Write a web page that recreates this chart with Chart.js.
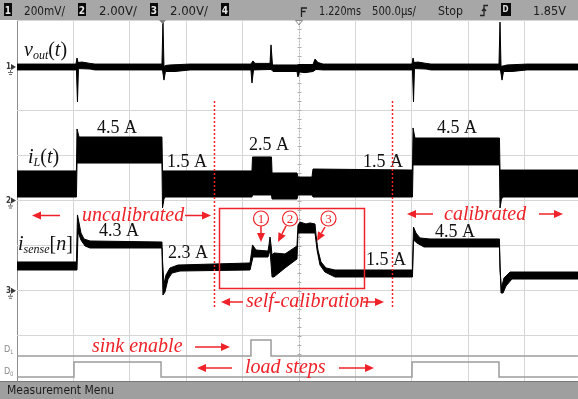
<!DOCTYPE html>
<html>
<head>
<meta charset="utf-8">
<script src="https://cdn.jsdelivr.net/npm/chart.js@4.4.1/dist/chart.umd.min.js"></script>
<style>
  html, body { margin: 0; padding: 0; background: #fff; }
  #wrap { width: 578px; height: 399px; }
</style>
</head>
<body>
<div id="wrap"><canvas id="scope" width="578" height="399"></canvas></div>
<script>
// time axis: ms from the left edge of the screen, 0.5 ms/div
// noisy traces are stored as envelopes: upper edge and lower edge, left to right

// ch1 vout(t), mV (AC, 200 mV/div)
const voutUpper = [[0, 13], [0.523, 13], [0.532, 40], [0.541, 20], [0.576, 22], [0.647, 16], [0.691, 13],
  [1.285, 13], [1.294, 199], [1.303, 2], [1.321, 7], [1.356, 9], [1.534, 13], [2.074, 13], [2.092, 27],
  [2.11, 16], [2.243, 16], [2.252, 98], [2.265, 9], [2.482, 9], [2.5, 11], [2.624, 11], [2.642, 35],
  [2.668, 20], [2.713, 13], [3.502, 13], [3.511, 40], [3.52, 20], [3.555, 22], [3.626, 16], [3.67, 13],
  [4.273, 13], [4.282, 199], [4.291, 2], [4.344, 9], [4.521, 13], [4.973, 13]];
const voutLower = [[0, -13], [0.527, -13], [0.536, -155], [0.545, -7], [0.647, -9], [0.691, -13],
  [1.29, -13], [1.303, -58], [1.316, -20], [1.401, -20], [1.534, -13], [2.074, -13], [2.083, -71],
  [2.097, -13], [2.252, -11], [2.27, -20], [2.482, -20], [2.491, -44], [2.504, -22], [2.553, -25],
  [2.624, -20], [2.651, -11], [2.713, -13], [3.506, -13], [3.515, -155], [3.524, -7], [3.626, -9],
  [3.67, -13], [4.286, -13], [4.3, -58], [4.313, -20], [4.388, -20], [4.521, -13], [4.973, -13]];

// ch2 iL(t), A
const iLUpper = [[0, 2.62], [0.527, 2.62], [0.532, 6.34], [0.55, 5.63], [1.285, 5.63], [1.29, 2.62],
  [2.083, 2.62], [2.088, 3.86], [2.256, 3.86], [2.261, 2.44], [2.482, 2.44], [2.491, 2.08], [2.615, 2.08],
  [2.624, 2.79], [3.506, 2.7], [3.511, 6.43], [3.528, 5.54], [4.277, 5.54], [4.282, 2.7], [4.973, 2.7]];
const iLLower = [[0, 0.31], [0.527, 0.31], [0.532, 3.32], [1.285, 3.32], [1.29, -0.66], [1.303, 0.13],
  [1.312, 0.31], [2.083, 0.31], [2.088, 0.49], [2.256, 0.49], [2.261, 0.13], [2.482, 0.13], [2.491, 0.49],
  [2.615, 0.49], [2.624, 0.31], [3.506, 0.31], [3.511, 3.15], [4.277, 3.15], [4.282, -0.66], [4.295, 0.13],
  [4.309, 0.31], [4.973, 0.31]];

// ch3 isense[n], A
const iSenseUpper = [[0, 2.55], [0.527, 2.55], [0.536, 6.72], [0.55, 6.01], [0.567, 5.12], [0.594, 4.59],
  [0.647, 4.41], [1.285, 4.32], [1.291, 2.55], [1.303, 0.6], [1.321, 1.4], [1.356, 2.02], [1.427, 2.28],
  [2.066, 2.46], [2.088, 4.06], [2.119, 3.61], [2.225, 3.52], [2.234, 4.06], [2.243, 4.77], [2.252, 4.06],
  [2.261, 3.17], [2.278, 3.35], [2.376, 3.26], [2.482, 3.97], [2.491, 5.83], [2.509, 6.09], [2.562, 5.92],
  [2.598, 6.01], [2.642, 5.92], [2.651, 4.94], [2.668, 3.61], [2.695, 2.55], [2.739, 2.02], [2.819, 1.84],
  [3.506, 1.84], [3.515, 5.65], [3.537, 5.12], [3.573, 4.68], [3.661, 4.59], [4.277, 4.59], [4.282, 1.84],
  [4.295, 0.24], [4.317, 1.13], [4.371, 1.66], [4.973, 1.66]];
const iSenseLower = [[0, 1.84], [0.532, 1.84], [0.541, 5.21], [0.567, 4.5], [0.603, 3.97], [0.647, 3.79],
  [1.285, 3.79], [1.294, -0.38], [1.312, -0.11], [1.339, 1.04], [1.374, 1.57], [1.445, 1.75], [2.066, 1.84],
  [2.092, 2.99], [2.225, 2.99], [2.243, 3.61], [2.261, 1.22], [2.278, 1.22], [2.376, 2.02], [2.482, 2.81],
  [2.491, 5.12], [2.642, 5.12], [2.66, 3.61], [2.686, 2.28], [2.73, 1.66], [2.819, 1.22], [3.506, 1.22],
  [3.515, 4.5], [3.546, 4.23], [3.608, 3.88], [4.277, 3.88], [4.291, -0.2], [4.309, -0.2], [4.335, 0.42],
  [4.388, 1.04], [4.973, 1.04]];

// digital channels D1 (sink enable) and D0 (load steps)
const sinkEnable = [[0, 0], [2.074, 1], [2.252, 0], [4.973, 0]];
const loadSteps = [[0, 0], [0.505, 1], [1.277, 0], [3.502, 1], [4.273, 0], [4.973, 0]];

// status line
const topItems = [
  { box: '1', x: 4 }, { text: '200mV/', x: 24, w: 41 },
  { box: '2', x: 78 }, { text: '2.00V/', x: 99, w: 38 },
  { box: '3', x: 150 }, { text: '2.00V/', x: 170, w: 38 },
  { box: '4', x: 221 },
  { text: '1.220ms', x: 319, w: 42 }, { text: '500.0\u00b5s/', x: 372, w: 44 },
  { text: 'Stop', x: 438, w: 25 }, { text: '1.85V', x: 533, w: 33 }
];

// screen geometry
const PLOT = { left: 17, top: 20, right: 578, bottom: 381 };
const DIV_X = 56.4;
const DIV_Y = (PLOT.bottom - PLOT.top) / 8;
const T_MAX = (PLOT.right - PLOT.left) / DIV_X * 0.5;

const RED = '#ef2229';
const SERIF = '"Liberation Serif", "Times New Roman", serif';
const SCOPE_FONT = '"DejaVu Sans Condensed", "DejaVu Sans", sans-serif';

function rangeFor(zeroPx, perDiv) {
  return {
    min: -(PLOT.bottom - zeroPx) / DIV_Y * perDiv,
    max: (zeroPx - PLOT.top) / DIV_Y * perDiv
  };
}

function pts(arr) {
  return arr.map(([x, y]) => ({ x, y }));
}

function band(label, upper, lower, axis) {
  return {
    label: label,
    yAxisID: axis,
    data: pts(upper.concat(lower.slice().reverse())),
    borderColor: '#000',
    backgroundColor: '#000',
    borderWidth: 1,
    borderJoinStyle: 'round',
    fill: 'shape',
    pointRadius: 0
  };
}

function digital(label, data, axis) {
  return {
    label: label,
    yAxisID: axis,
    data: pts(data),
    stepped: true,
    borderColor: '#9c9c9c',
    borderWidth: 1.5,
    fill: false,
    pointRadius: 0
  };
}

function fitText(ctx, s, x, y, w) {
  const m = ctx.measureText(s).width;
  const k = w ? Math.min(1, w / m) : 1;
  ctx.save();
  ctx.translate(x, y);
  ctx.scale(k, 1);
  ctx.fillText(s, 0, 0);
  ctx.restore();
}

// draws runs of text one after another: [text, font, dy]
function rich(ctx, x, y, parts, color) {
  ctx.fillStyle = color;
  for (const [s, font, dy] of parts) {
    ctx.font = font;
    ctx.fillText(s, x, y + (dy || 0));
    x += ctx.measureText(s).width;
  }
}

function arrow(ctx, x1, y1, x2, y2) {
  const ang = Math.atan2(y2 - y1, x2 - x1);
  const hl = 9, hw = 4;
  const bx = x2 - hl * Math.cos(ang), by = y2 - hl * Math.sin(ang);
  ctx.beginPath();
  ctx.moveTo(x1, y1);
  ctx.lineTo(bx, by);
  ctx.stroke();
  ctx.beginPath();
  ctx.moveTo(x2, y2);
  ctx.lineTo(bx + hw * Math.sin(ang), by - hw * Math.cos(ang));
  ctx.lineTo(bx - hw * Math.sin(ang), by + hw * Math.cos(ang));
  ctx.closePath();
  ctx.fill();
}

function drawBars(ctx) {
  ctx.save();
  ctx.fillStyle = '#a7a7a7';
  ctx.fillRect(0, 0, 578, PLOT.top);
  ctx.fillStyle = '#9f9f9f';
  ctx.fillRect(0, PLOT.bottom, 578, 399 - PLOT.bottom);
  ctx.fillStyle = '#7a7a7a';
  ctx.fillRect(0, PLOT.bottom, 578, 1);

  ctx.textBaseline = 'alphabetic';
  for (const it of topItems) {
    if (it.box) {
      ctx.fillStyle = '#0a0a0a';
      ctx.fillRect(it.x, 3, 8, 13);
      ctx.fillStyle = '#e8e8e8';
      ctx.font = 'bold 10px ' + SCOPE_FONT;
      ctx.textAlign = 'center';
      ctx.fillText(it.box, it.x + 4, 13.5);
      ctx.textAlign = 'left';
    } else {
      ctx.fillStyle = '#1c1c1c';
      ctx.font = '13px ' + SCOPE_FONT;
      fitText(ctx, it.text, it.x, 15, it.w);
    }
  }
  // trigger position icon
  ctx.strokeStyle = '#222';
  ctx.lineWidth = 1.3;
  ctx.beginPath();
  ctx.moveTo(301.5, 17); ctx.lineTo(301.5, 8); ctx.lineTo(307, 8);
  ctx.moveTo(301.5, 11.5); ctx.lineTo(305.5, 11.5);
  ctx.stroke();
  // trigger slope icon
  ctx.beginPath();
  ctx.moveTo(480, 15.5); ctx.lineTo(484, 15.5); ctx.lineTo(484, 5.5); ctx.lineTo(488, 5.5);
  ctx.moveTo(482, 11); ctx.lineTo(484, 8.5); ctx.lineTo(486, 11);
  ctx.stroke();
  // trigger source box
  ctx.fillStyle = '#0a0a0a';
  ctx.fillRect(501, 3, 10, 13);
  ctx.fillStyle = '#e0e0e0';
  ctx.font = 'bold 8px ' + SCOPE_FONT;
  ctx.fillText('D', 502.5, 12);

  // markers under the status line
  ctx.fillStyle = '#808080';
  ctx.beginPath();
  ctx.moveTo(159, 20); ctx.lineTo(166, 20); ctx.lineTo(162.5, 24); ctx.closePath(); ctx.fill();
  ctx.strokeStyle = '#8a8a8a';
  ctx.lineWidth = 1;
  ctx.beginPath();
  ctx.moveTo(295.5, 20.5); ctx.lineTo(302.5, 20.5); ctx.lineTo(299, 25); ctx.closePath(); ctx.stroke();

  ctx.fillStyle = '#1c1c1c';
  ctx.font = '12px ' + SCOPE_FONT;
  fitText(ctx, 'Measurement Menu', 7, 393.5, 111);
  ctx.restore();
}

function drawMarkers(ctx) {
  ctx.save();
  const marks = [['1', 67], ['2', 200.5], ['3', 290.75]];
  for (const [n, y] of marks) {
    ctx.fillStyle = '#3a3a3a';
    ctx.font = 'bold 8px ' + SCOPE_FONT;
    ctx.fillText(n, 6, y + 2);
    ctx.beginPath();
    ctx.moveTo(11, y - 3); ctx.lineTo(16, y); ctx.lineTo(11, y + 3); ctx.closePath(); ctx.fill();
    ctx.strokeStyle = '#6a6a6a';
    ctx.lineWidth = 1;
    ctx.beginPath();
    ctx.moveTo(10.5, y + 3); ctx.lineTo(10.5, y + 5);
    ctx.moveTo(8, y + 5.5); ctx.lineTo(13, y + 5.5);
    ctx.moveTo(9, y + 7.5); ctx.lineTo(12, y + 7.5);
    ctx.stroke();
  }
  ctx.fillStyle = '#8a8a8a';
  ctx.font = '9px ' + SCOPE_FONT;
  ctx.fillText('D', 4, 352);
  ctx.fillText('D', 4, 374);
  ctx.font = '6px ' + SCOPE_FONT;
  ctx.fillText('1', 10, 354);
  ctx.fillText('0', 10, 376);
  ctx.restore();
}

function drawNotes(ctx) {
  ctx.save();
  const it = 'italic 20px ' + SERIF;
  const sub = 'italic 12px ' + SERIF;
  const up = '20px ' + SERIF;

  // trace names
  rich(ctx, 24, 56, [['v', it], ['out', sub, 3], ['(', up], ['t', it], [')', up]], '#111');
  rich(ctx, 28, 163, [['i', it], ['L', sub, 3], ['(', up], ['t', it], [')', up]], '#111');
  rich(ctx, 18, 250, [['i', it], ['sense', sub, 3], ['[', up], ['n', it], [']', up]], '#111');

  // levels
  ctx.fillStyle = '#111';
  ctx.font = '18px ' + SERIF;
  const levels = [['4.5 A', 97, 133], ['1.5 A', 167, 167], ['2.5 A', 249, 150], ['1.5 A', 363, 167],
    ['4.5 A', 437, 133], ['4.3 A', 99, 236], ['2.3 A', 168, 258], ['1.5 A', 366, 265], ['4.5 A', 435, 237]];
  for (const [s, x, y] of levels) ctx.fillText(s, x, y);

  // red annotations
  ctx.strokeStyle = RED;
  ctx.fillStyle = RED;
  ctx.lineWidth = 1.5;
  ctx.setLineDash([2, 2]);
  ctx.beginPath();
  ctx.moveTo(214.5, 101); ctx.lineTo(214.5, 309);
  ctx.moveTo(392.5, 101); ctx.lineTo(392.5, 309);
  ctx.stroke();
  ctx.setLineDash([]);
  ctx.strokeRect(219.5, 208.5, 145, 80);

  ctx.font = 'italic 20px ' + SERIF;
  ctx.fillText('uncalibrated', 82, 221);
  ctx.fillText('calibrated', 444, 220);
  ctx.fillText('self-calibration', 246, 307);
  ctx.fillText('sink enable', 92, 352);
  ctx.fillText('load steps', 245, 373);

  const arrows = [[60, 215.5, 32, 215.5], [185, 215.5, 211, 215.5], [433, 214, 407, 214], [539, 214, 563, 214],
    [243, 302, 221, 302], [363, 302, 384, 302], [195, 347, 230, 347], [232, 368, 197, 368], [339, 368, 374, 368],
    [261, 226, 261, 242], [286, 226, 278, 242], [325, 227, 317, 241]];
  for (const a of arrows) arrow(ctx, a[0], a[1], a[2], a[3]);

  ctx.lineWidth = 1.2;
  ctx.font = '13px ' + SERIF;
  ctx.textAlign = 'center';
  const circles = [['1', 261, 218.5], ['2', 290, 218.5], ['3', 328.5, 218.5]];
  for (const [n, x, y] of circles) {
    ctx.beginPath();
    ctx.arc(x, y, 7.5, 0, Math.PI * 2);
    ctx.stroke();
    ctx.fillText(n, x, y + 4.5);
  }
  ctx.restore();
}

const screenPlugin = {
  id: 'scopeScreen',
  beforeDraw(chart) {
    const ctx = chart.ctx;
    ctx.save();
    ctx.fillStyle = '#fff';
    ctx.fillRect(0, 0, chart.width, chart.height);
    ctx.restore();
  },
  beforeDatasetsDraw(chart) {
    const { ctx, chartArea: a, scales } = chart;
    const xc = Math.round(scales.x.getPixelForValue(2.5)) + 0.5;
    ctx.save();
    ctx.strokeStyle = '#b0b0b0';
    ctx.lineWidth = 1;
    ctx.setLineDash([1, 2]);
    ctx.beginPath();
    ctx.moveTo(xc, a.top);
    ctx.lineTo(xc, a.bottom);
    ctx.stroke();
    ctx.setLineDash([]);
    ctx.beginPath();
    for (let y = a.top; y < a.bottom; y += DIV_Y / 5) {
      ctx.moveTo(xc - 2, Math.round(y) + 0.5);
      ctx.lineTo(xc + 2, Math.round(y) + 0.5);
    }
    ctx.stroke();
    ctx.restore();
  },
  afterDraw(chart) {
    drawBars(chart.ctx);
    drawMarkers(chart.ctx);
    drawNotes(chart.ctx);
  }
};

const gridColor = (c) => (c.index === 0 ? '#8c8c8c' : '#d6d6d6');

new Chart(document.getElementById('scope'), {
  type: 'line',
  data: {
    datasets: [
      band('vout', voutUpper, voutLower, 'yV'),
      band('iL', iLUpper, iLLower, 'yL'),
      band('isense', iSenseUpper, iSenseLower, 'yS'),
      digital('D1', sinkEnable, 'yD1'),
      digital('D0', loadSteps, 'yD0')
    ]
  },
  options: {
    responsive: false,
    animation: false,
    events: [],
    layout: { padding: { left: PLOT.left, top: PLOT.top, right: 578 - PLOT.right, bottom: 399 - PLOT.bottom } },
    plugins: { legend: { display: false }, tooltip: { enabled: false } },
    scales: {
      x: {
        type: 'linear', min: 0, max: T_MAX,
        ticks: { display: false, stepSize: 0.5, includeBounds: false },
        grid: { color: gridColor, drawTicks: false },
        border: { display: false }
      },
      y: {
        min: 0, max: 8,
        ticks: { display: false, stepSize: 1, includeBounds: false },
        grid: { color: gridColor, drawTicks: false },
        border: { display: false }
      },
      yV: Object.assign({ display: false }, rangeFor(67, 200)),
      yL: Object.assign({ display: false }, rangeFor(200.5, 4)),
      yS: Object.assign({ display: false }, rangeFor(290.75, 4)),
      yD1: Object.assign({ display: false }, rangeFor(356, DIV_Y / 16)),
      yD0: Object.assign({ display: false }, rangeFor(377, DIV_Y / 15))
    }
  },
  plugins: [screenPlugin]
});
</script>
</body>
</html>
